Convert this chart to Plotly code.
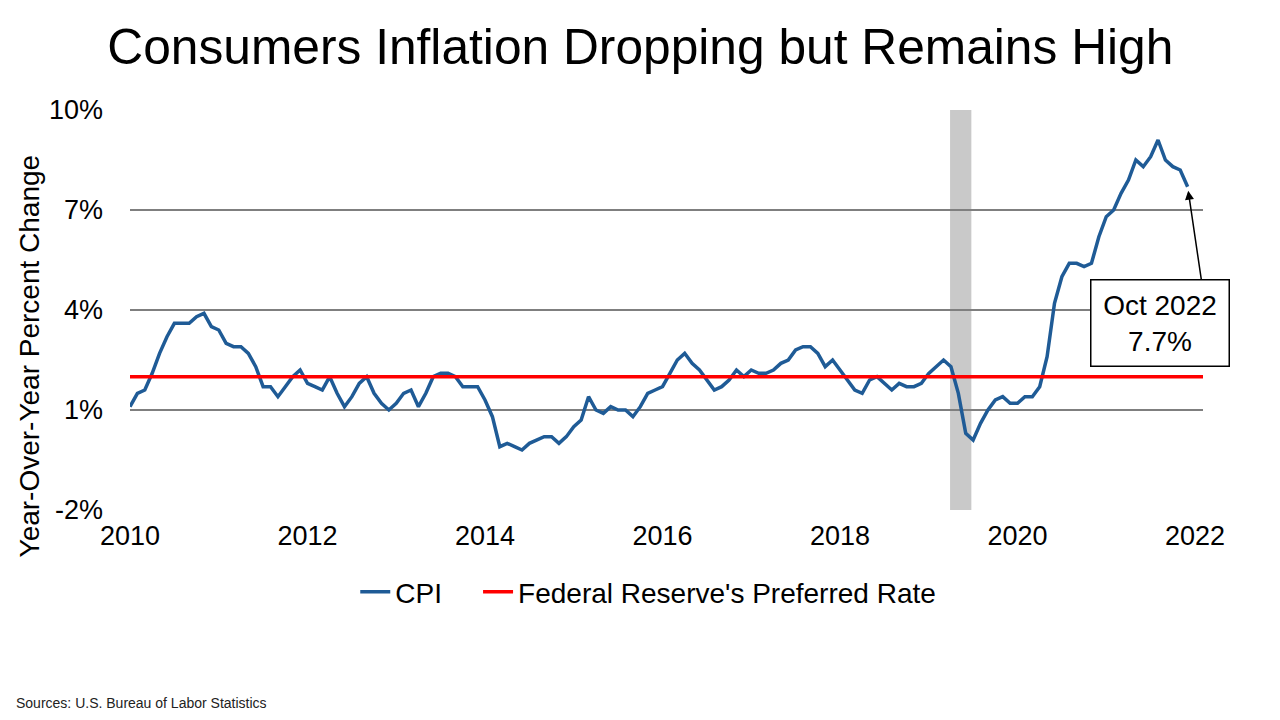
import plotly.graph_objects as go

# CPI year-over-year change, monthly (first point sits on 2010)
cpi = [
    1.1, 1.5, 1.6, 2.1, 2.7, 3.2, 3.6, 3.6, 3.6, 3.8, 3.9, 3.5,
    3.4, 3.0, 2.9, 2.9, 2.7, 2.3, 1.7, 1.7, 1.4, 1.7, 2.0, 2.2,
    1.8, 1.7, 1.6, 2.0, 1.5, 1.1, 1.4, 1.8, 2.0, 1.5, 1.2, 1.0,
    1.2, 1.5, 1.6, 1.1, 1.5, 2.0, 2.1, 2.1, 2.0, 1.7, 1.7, 1.7,
    1.3, 0.8, -0.1, 0.0, -0.1, -0.2, 0.0, 0.1, 0.2, 0.2, 0.0, 0.2,
    0.5, 0.7, 1.4, 1.0, 0.9, 1.1, 1.0, 1.0, 0.8, 1.1, 1.5, 1.6,
    1.7, 2.1, 2.5, 2.7, 2.4, 2.2, 1.9, 1.6, 1.7, 1.9, 2.2, 2.0,
    2.2, 2.1, 2.1, 2.2, 2.4, 2.5, 2.8, 2.9, 2.9, 2.7, 2.3, 2.5,
    2.2, 1.9, 1.6, 1.5, 1.9, 2.0, 1.8, 1.6, 1.8, 1.7, 1.7, 1.8,
    2.1, 2.3, 2.5, 2.3, 1.5, 0.3, 0.1, 0.6, 1.0, 1.3, 1.4, 1.2,
    1.2, 1.4, 1.4, 1.7, 2.6, 4.2, 5.0, 5.4, 5.4, 5.3, 5.4, 6.2,
    6.8, 7.0, 7.5, 7.9, 8.5, 8.3, 8.6, 9.1, 8.5, 8.3, 8.2, 7.7,
]
fed_target = 2.0
recession = [2019.24, 2019.48]
x_ticks = [2010, 2012, 2014, 2016, 2018, 2020, 2022]
y_ticks = [-2, 1, 4, 7, 10]

x = [2010 + i / 12 for i in range(len(cpi))]
font = "Arial, Liberation Sans, sans-serif"

fig = go.Figure()

# recession band
fig.add_vrect(x0=recession[0], x1=recession[1], fillcolor="#c9c9c9",
              line_width=0, layer="below")

# trailing nbsp's give the wider gap between legend entries
fig.add_trace(go.Scatter(x=x, y=cpi, mode="lines", name="CPI\u00a0\u00a0\u00a0\u00a0",
                         line=dict(color="#1f5b96", width=3.5)))
fig.add_trace(go.Scatter(x=[2010, 2022.09], y=[fed_target, fed_target],
                         mode="lines", name="Federal Reserve's Preferred Rate",
                         line=dict(color="#ff0000", width=3.5)))

# arrow to the last point + label box
fig.add_annotation(x=x[-1], y=cpi[-1], text=" ", showarrow=True,
                   axref="pixel", ayref="pixel", ax=14, ay=95,
                   arrowhead=2, arrowsize=1.2, arrowwidth=1.5,
                   arrowcolor="black", standoff=4, font=dict(size=1))
fig.add_annotation(x=2021.61, y=3.6, xref="x", yref="y",
                   text="Oct 2022<br>7.7%", showarrow=False,
                   font=dict(family=font, size=28, color="black"),
                   bgcolor="white", bordercolor="black", borderwidth=1.5,
                   borderpad=9, width=119)

# y axis title (sits a bit below the axis centre in the original)
fig.add_annotation(x=-0.11, y=0.385, xref="paper", yref="paper",
                   text="Year-Over-Year Percent Change", textangle=-90,
                   showarrow=False, font=dict(family=font, size=28, color="black"))

fig.add_annotation(x=-0.108, y=-0.4825, xref="paper", yref="paper",
                   xanchor="left", yanchor="middle",
                   text="Sources: U.S. Bureau of Labor Statistics",
                   showarrow=False, font=dict(family=font, size=14, color="#222"))

fig.update_layout(
    width=1280, height=720,
    margin=dict(l=122, r=85, t=102, b=218),
    paper_bgcolor="white", plot_bgcolor="white",
    font=dict(family=font, color="black"),
    title=dict(text="Consumers Inflation Dropping but Remains High",
               x=0.494, xanchor="center", y=0.946, yanchor="middle",
               font=dict(size=49.7, color="black")),
    showlegend=True,
    legend=dict(orientation="h", x=0.483, xanchor="center", y=-0.205,
                yanchor="middle", font=dict(size=28), itemwidth=30,
                tracegroupgap=0),
    xaxis=dict(range=[2010, 2022.09], tickvals=x_ticks,
               ticktext=[str(t) for t in x_ticks], showgrid=False,
               zeroline=False, showline=False, ticks="",
               tickfont=dict(size=27), ticklabelstandoff=7),
    yaxis=dict(range=[-2, 10], tickvals=y_ticks,
               ticktext=[f"{t}%" for t in y_ticks], showgrid=True,
               gridcolor="#7f7f7f", gridwidth=1.5, zeroline=False,
               showline=False, ticks="", tickfont=dict(size=27),
               ticklabelstandoff=26),
)

fig.write_html("out.html")
